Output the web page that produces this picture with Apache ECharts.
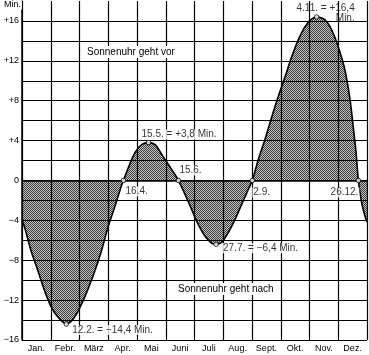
<!DOCTYPE html>
<html>
<head>
<meta charset="utf-8">
<script src="https://cdn.jsdelivr.net/npm/echarts@6/dist/echarts.min.js"></script>
<style>
html,body{margin:0;padding:0;background:#fff;}
#chart{width:369px;height:355px;}
</style>
</head>
<body>
<div id="chart"></div>
<script>
// ---- data ----
const months = ['Jan.', 'Febr.', 'März', 'Apr.', 'Mai', 'Juni', 'Juli', 'Aug.', 'Sept.', 'Okt.', 'Nov.', 'Dez.'];
// position in the year, in months (0 = 1 Jan, 12 = 31 Dec)
const yearPos = [0, 0.09, 0.32, 0.56, 0.79, 1.02, 1.25, 1.54, 1.83, 2.18, 2.53, 2.76, 2.99, 3.22, 3.45, 3.53,
  3.70, 3.93, 4.16, 4.40, 4.63, 4.86, 5.09, 5.32, 5.44, 5.67, 5.90, 6.13, 6.37, 6.60, 6.75, 6.95, 7.18, 7.41,
  7.64, 7.87, 8.01, 8.22, 8.45, 8.69, 8.91, 9.15, 9.38, 9.61, 9.84, 10.08, 10.25, 10.54, 10.77, 11.00, 11.23,
  11.41, 11.52, 11.62, 11.70, 11.80, 11.90, 12.0];
// sundial minus clock time, minutes
const minutes = [-4.0, -4.7, -7.1, -9.1, -11.1, -12.7, -13.7, -14.4, -13.7, -11.7, -9.1, -7.1, -4.7, -2.7, -0.6, 0,
  1.3, 2.8, 3.6, 3.8, 3.6, 2.6, 1.6, 0.6, 0, -1.4, -2.9, -4.4, -5.6, -6.3, -6.4, -6.2, -5.2, -3.9,
  -2.4, -0.9, 0, 2.1, 4.1, 6.4, 8.4, 10.4, 12.4, 14.1, 15.4, 16.2, 16.4, 16.1, 15.1, 13.4, 11.1,
  8.1, 5.4, 2.8, 0, -2.0, -3.3, -4.2];
// marked dates
const keyPos = [1.54, 3.53, 4.40, 5.44, 6.75, 8.01, 10.25, 11.70];
const keyVal = [-14.4, 0, 3.8, 0, -6.4, 0, 16.4, 0];
const keyText = ['12.2. = \u221214,4 Min.', '16.4.', '15.5. = +3,8 Min.', '15.6.', '27.7. = \u22126,4 Min.', '2.9.', '4.11. = +16,4\nMin.', '26.12.'];
const yTicks = [-16, -12, -8, -4, 0, 4, 8, 12, 16];
const noteAhead = 'Sonnenuhr geht vor';
const noteBehind = 'Sonnenuhr geht nach';

// ---- styling / placement ----
const FONT = 'Liberation Sans, Arial, sans-serif';
const labelPlace = [
  {dx: 5, dy: 6, align: 'left', bg: true},
  {dx: 1, dy: 11, align: 'left', bg: true},
  {dx: -8, dy: -8, align: 'left', bg: true},
  {dx: 0, dy: -10, align: 'left', bg: true},
  {dx: 6, dy: 4, align: 'left', bg: true},
  {dx: 0, dy: 12, align: 'left', bg: true},
  {dx: 39, dy: -4, align: 'right', bg: false},
  {dx: 1, dy: 12, align: 'right', bg: true}
];

const pc = document.createElement('canvas');
pc.width = 2; pc.height = 2;
const pctx = pc.getContext('2d');
pctx.fillStyle = '#c4c4c4'; pctx.fillRect(0, 0, 2, 2);
pctx.fillStyle = '#3c3c3c'; pctx.fillRect(0, 0, 1, 1); pctx.fillRect(1, 1, 1, 1);

const lineData = yearPos.map((x, i) => [x, minutes[i]]);
const keyData = keyPos.map((x, i) => ({
  value: [x, keyVal[i]],
  label: {
    show: true,
    formatter: keyText[i],
    position: 'inside',
    align: labelPlace[i].align,
    verticalAlign: 'middle',
    offset: [labelPlace[i].dx, labelPlace[i].dy],
    backgroundColor: labelPlace[i].bg ? '#fff' : 'transparent',
    padding: [0, 1],
    lineHeight: 10
  }
}));

// y split line colours: -16 .. 18 step 2, last one hidden
const ySplitColors = [];
for (let v = -16; v <= 18; v += 2) ySplitColors.push(v === 18 ? 'rgba(0,0,0,0)' : '#000');

const chart = echarts.init(document.getElementById('chart'), null, {renderer: 'canvas'});
chart.setOption({
  animation: false,
  backgroundColor: '#fff',
  grid: {left: 22, right: 2, top: 1, bottom: 15, containLabel: false},
  xAxis: [{
    type: 'value', min: 0, max: 12, interval: 1, z: 5,
    axisLine: {show: true, lineStyle: {color: '#000', width: 1.5}},
    axisTick: {show: false},
    axisLabel: {show: false},
    splitLine: {show: true, lineStyle: {color: '#000', width: 1.2}}
  }, {
    type: 'category', data: months, position: 'bottom', boundaryGap: true, z: 5,
    axisLine: {show: false}, axisTick: {show: false}, splitLine: {show: false},
    axisLabel: {margin: 4, fontSize: 9, fontFamily: FONT, color: '#000', interval: 0}
  }],
  yAxis: {
    type: 'value', min: -16, max: 18, interval: 2, z: 5,
    axisLine: {show: true, lineStyle: {color: '#000', width: 1.5}},
    axisTick: {show: false},
    axisLabel: {
      margin: 3, fontSize: 9, fontFamily: FONT, color: '#000',
      formatter: v => {
        if (yTicks.indexOf(v) < 0) return '';
        if (v > 0) return '+' + v;
        if (v < 0) return '\u2212' + Math.abs(v);
        return '0';
      }
    },
    splitLine: {show: true, lineStyle: {color: ySplitColors, width: 1.2}}
  },
  series: [{
    type: 'line',
    xAxisIndex: 0,
    data: lineData,
    smooth: 0.3,
    symbol: 'none',
    z: 2,
    lineStyle: {color: '#000', width: 1.6},
    areaStyle: {origin: 0, color: {image: pc, repeat: 'repeat'}, opacity: 1}
  }, {
    type: 'scatter',
    xAxisIndex: 0,
    data: keyData,
    symbol: 'circle',
    symbolSize: 4.5,
    z: 20,
    itemStyle: {color: '#fff', borderColor: '#000', borderWidth: 1},
    label: {fontSize: 10, fontFamily: FONT, color: '#000'}
  }],
  graphic: [
    {type: 'text', z: 100, x: 85, y: 52, style: {text: noteAhead, font: '10px ' + FONT, fill: '#000', verticalAlign: 'middle', backgroundColor: '#fff', padding: [1, 2]}},
    {type: 'text', z: 100, x: 176, y: 289, style: {text: noteBehind, font: '10px ' + FONT, fill: '#000', verticalAlign: 'middle', backgroundColor: '#fff', padding: [1, 2]}},
    {type: 'text', z: 100, x: 3, y: 5, style: {text: 'Min.', font: '9px ' + FONT, fill: '#000', verticalAlign: 'middle', backgroundColor: '#fff', padding: [0, 1]}}
  ]
});
</script>
</body>
</html>
